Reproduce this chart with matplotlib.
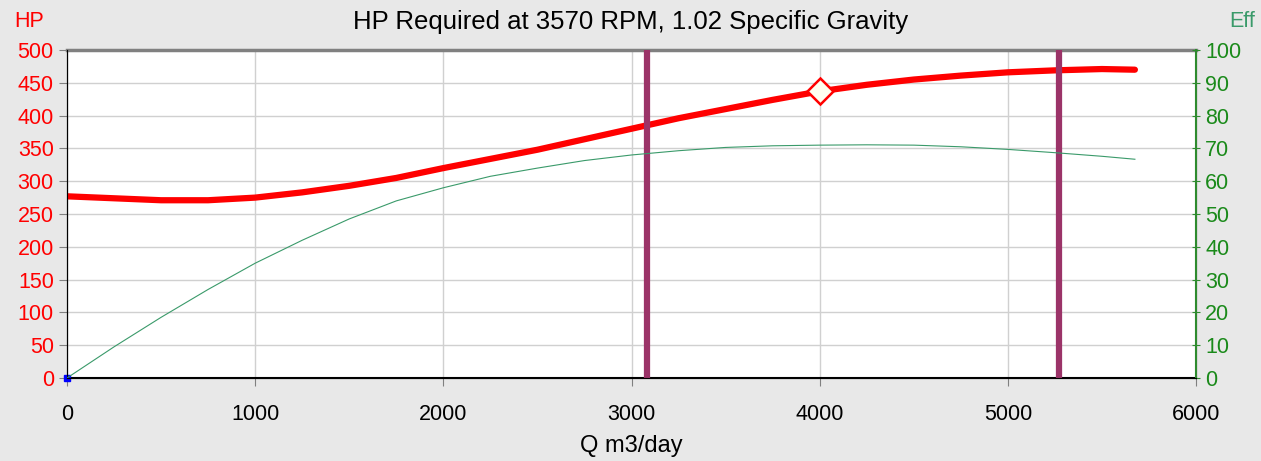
import matplotlib.pyplot as plt
import numpy as np

plt.rcParams['font.family'] = ['Liberation Sans', 'DejaVu Sans']

# HP curve (left axis)
q_hp = [0, 250, 500, 750, 1000, 1250, 1500, 1750, 2000, 2250, 2500, 2750, 3000,
        3250, 3500, 3750, 4000, 4250, 4500, 4750, 5000, 5250, 5500, 5675]
hp = [277, 274, 271, 271, 275, 283, 293, 305, 320, 334, 348, 364, 380,
      396, 410, 424, 437, 447, 455, 461, 466, 469, 471, 470]

# efficiency curve (right axis)
q_eff = [0, 250, 500, 750, 1000, 1250, 1500, 1750, 2000, 2250, 2500, 2750, 3000,
         3250, 3500, 3750, 4000, 4250, 4500, 4750, 5000, 5250, 5500, 5675]
eff = [0, 9.5, 18.5, 27, 35, 42, 48.5, 54, 58, 61.5, 64, 66.3, 68,
       69.3, 70.3, 70.8, 71, 71.1, 71, 70.5, 69.7, 68.7, 67.6, 66.7]

bep_q = 4000
bep_hp = 437
range_lines = [3080, 5270]

fig = plt.figure(figsize=(12.61, 4.61), dpi=100, facecolor='#E8E8E8')
ax = fig.add_axes([0.0531, 0.18, 0.8954, 0.7115])
ax.set_facecolor('white')

ax.plot(q_hp, hp, color='#FF0000', lw=4.5, solid_capstyle='round', zorder=4)
ax.plot(bep_q, bep_hp, marker='D', ms=13, mfc='#FFFFF0', mec='#FF0000', mew=1.8, zorder=6)
ax.plot(0, 0, marker='s', ms=4, color='#0000FF', zorder=6, clip_on=False)
for x in range_lines:
    ax.axvline(x, color='#9B3368', lw=4.5, zorder=5)

ax.set_xlim(0, 6000)
ax.set_ylim(0, 500)
ax.set_xticks(np.arange(0, 6001, 1000))
ax.set_yticks(np.arange(0, 501, 50))
ax.grid(True, color='#D0D0D0', lw=1)
ax.set_axisbelow(True)
ax.tick_params(axis='y', colors='#808080', labelcolor='#FF0000', labelsize=15.5, length=6, direction='out')
ax.tick_params(axis='x', colors='#808080', labelcolor='black', labelsize=15.5, length=6, pad=13)
ax.spines['left'].set_color('black')
ax.spines['bottom'].set_color('black')
ax.spines['bottom'].set_linewidth(1.5)
ax.spines['top'].set_color('#808080')
ax.spines['top'].set_linewidth(2.5)

ax2 = ax.twinx()
ax2.plot(q_eff, eff, color='#3A9A6A', lw=0.8, zorder=3)
ax2.set_ylim(0, 100)
ax2.set_yticks(np.arange(0, 101, 10))
ax2.tick_params(axis='y', colors='#2E8B2E', labelcolor='#1A8A1A', labelsize=15.5, length=6, direction='inout')
ax2.spines['right'].set_color('#2E8B2E')
ax2.spines['right'].set_linewidth(1.5)
ax2.spines['top'].set_visible(False)

ax.set_xlabel('Q m3/day', fontsize=17, labelpad=7)
fig.text(0.5, 0.953, 'HP Required at 3570 RPM, 1.02 Specific Gravity', ha='center', va='center', fontsize=18.5)
fig.text(0.011, 0.953, 'HP', color='#FF0000', fontsize=15.5, va='center')
fig.text(0.995, 0.953, 'Eff', color='#3A9A6A', fontsize=15.5, va='center', ha='right')

fig.savefig('out.png', dpi=100, facecolor=fig.get_facecolor())
